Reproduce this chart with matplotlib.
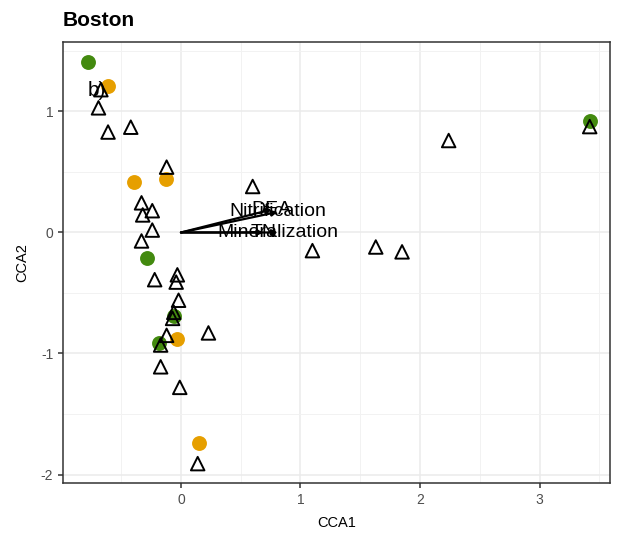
import matplotlib
matplotlib.use("Agg")
import matplotlib.pyplot as plt
from matplotlib.ticker import MultipleLocator

plt.rcParams["font.family"] = ["Liberation Sans", "DejaVu Sans"]
plt.rcParams["axes.unicode_minus"] = False

# site scores by group
green_x = [-0.78, 3.42, -0.28, -0.06, -0.18]
green_y = [1.41, 0.92, -0.21, -0.69, -0.91]
orange_x = [-0.61, -0.39, -0.125, -0.03, 0.15]
orange_y = [1.21, 0.42, 0.44, -0.88, -1.74]

# sample scores (open triangles)
tri_x = [-0.67, -0.69, -0.61, -0.42, -0.12, -0.33, -0.24, -0.32, 0.60,
         -0.24, -0.33, -0.22, -0.03, -0.04, -0.02, -0.06, -0.07, 0.23,
         -0.12, -0.17, -0.17, -0.01, 0.14, 2.24, 3.42, 1.10, 1.63, 1.85]
tri_y = [1.18, 1.03, 0.83, 0.87, 0.54, 0.245, 0.18, 0.145, 0.38,
         0.02, -0.07, -0.39, -0.35, -0.41, -0.56, -0.66, -0.71, -0.83,
         -0.85, -0.93, -1.11, -1.28, -1.91, 0.76, 0.875, -0.15, -0.12, -0.16]

# environmental vectors
env_names = ["Nitrification", "DEA", "Mineralization", "TN"]
env_x = [0.81, 0.76, 0.81, 0.69]
env_y = [0.17, 0.19, 0.0, 0.0]

GREEN = "#438a0f"
ORANGE = "#e69f00"

fig = plt.figure(figsize=(6.2, 5.42), dpi=100)
ax = fig.add_axes([0.1016, 0.1089, 0.8823, 0.8127])

ax.scatter(green_x, green_y, s=115, color=GREEN, zorder=3, linewidths=0)
ax.scatter(orange_x, orange_y, s=115, color=ORANGE, zorder=3, linewidths=0)
ax.scatter(tri_x, tri_y, s=95, marker="^", facecolors="none",
           edgecolors="black", linewidths=1.4, zorder=4)

for name, ex, ey in zip(env_names, env_x, env_y):
    ax.annotate("", xy=(ex, ey), xytext=(0, 0),
                arrowprops=dict(arrowstyle="-|>", color="black", lw=1.6,
                                mutation_scale=8, shrinkA=0, shrinkB=0),
                zorder=5)
    ax.text(ex, ey, name, ha="center", va="center", fontsize=14, zorder=6)

ax.text(-0.70, 1.17, "b)", ha="center", va="center", fontsize=15, zorder=6)

ax.set_xlim(-0.987, 3.59)
ax.set_ylim(-2.07, 1.57)
ax.xaxis.set_major_locator(MultipleLocator(1))
ax.yaxis.set_major_locator(MultipleLocator(1))
ax.xaxis.set_minor_locator(MultipleLocator(0.5))
ax.yaxis.set_minor_locator(MultipleLocator(0.5))
ax.grid(which="major", color="#ebebeb", lw=1.1)
ax.grid(which="minor", color="#f2f2f2", lw=0.7)
ax.set_axisbelow(True)
ax.tick_params(which="minor", length=0)
ax.tick_params(which="major", length=3.5, width=1.1, color="#333333",
               labelsize=10, labelcolor="#4d4d4d")
for sp in ax.spines.values():
    sp.set_color("#333333")
    sp.set_linewidth(1.1)

ax.set_xlabel("CCA1", fontsize=10.5, labelpad=7)
ax.set_ylabel("CCA2", fontsize=10.5, labelpad=8)
fig.text(0.1016, 0.963, "Boston", fontsize=15, fontweight="bold",
         ha="left", va="center")

fig.savefig("out.png", dpi=100)
